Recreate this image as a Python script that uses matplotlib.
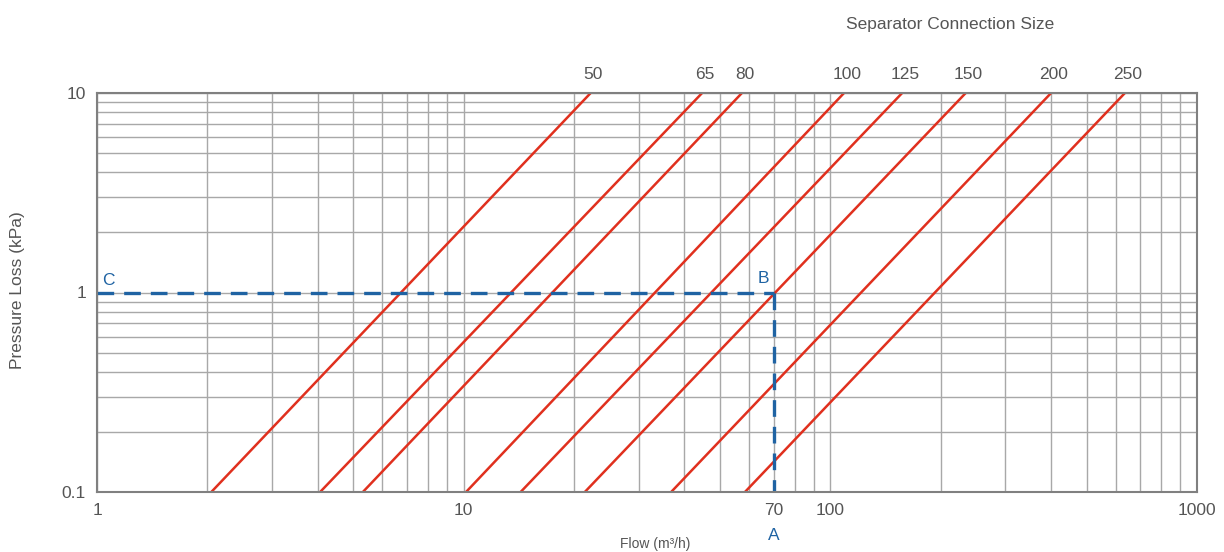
import matplotlib
matplotlib.use("Agg")
import matplotlib.pyplot as plt
from matplotlib.ticker import FixedLocator, NullFormatter, LogLocator

# Data
sizes = ["50", "65", "80", "100", "125", "150", "200", "250"]
flow_at_low = [2.05, 4.06, 5.31, 10.15, 14.3, 21.4, 36.8, 58.5]   # flow at 0.1 kPa
flow_at_high = [22.2, 44.7, 57.4, 109, 157, 234, 400, 636]       # flow at 10 kPa
p_low, p_high = 0.1, 10
example_flow = 70
example_dp = 1
xticks = [1, 10, 70, 100, 1000]
xticklabels = ["1", "10", "70", "100", "1000"]
yticks = [0.1, 1, 10]
yticklabels = ["0.1", "1", "10"]

plt.rcParams['font.family'] = ['Liberation Sans', 'DejaVu Sans']
txt = "#555555"
red = "#e0301e"
blue = "#1f63a3"

fig = plt.figure(figsize=(12.24, 5.52), dpi=100)
ax = fig.add_axes([97/1224, 60/552, 1100/1224, 399/552])
ax.set_xscale("log")
ax.set_yscale("log")
ax.set_xlim(1, 1000)
ax.set_ylim(0.1, 10)

ax.xaxis.set_major_locator(FixedLocator(xticks))
ax.set_xticklabels(xticklabels)
ax.yaxis.set_major_locator(FixedLocator(yticks))
ax.set_yticklabels(yticklabels)
ax.xaxis.set_minor_locator(LogLocator(base=10, subs=range(2, 10), numticks=20))
ax.yaxis.set_minor_locator(LogLocator(base=10, subs=range(2, 10), numticks=20))
ax.xaxis.set_minor_formatter(NullFormatter())
ax.yaxis.set_minor_formatter(NullFormatter())
ax.tick_params(which="both", length=0, labelsize=12.5, colors=txt, pad=8)
ax.grid(which="both", color="#a8a8a8", linewidth=1.0)
for s in ax.spines.values():
    s.set_color("#808080")
    s.set_linewidth(1.5)

for lab, xl, xh in zip(sizes, flow_at_low, flow_at_high):
    ax.plot([xl, xh], [p_low, p_high], color=red, lw=1.8, solid_capstyle="butt")
    ax.annotate(lab, xy=(xh, p_high), xytext=(2, 8), textcoords="offset points",
                ha="center", va="bottom", fontsize=12.5, color=txt, annotation_clip=False)

ax.plot([1, example_flow], [example_dp, example_dp], color=blue, lw=2.4, ls=(0, (5, 3)))
ax.plot([example_flow, example_flow], [example_dp, p_low], color=blue, lw=2.4, ls=(0, (5, 3)))
ax.annotate("C", xy=(1, example_dp), xytext=(4, 3), textcoords="offset points",
            ha="left", va="bottom", fontsize=12.5, color=blue)
ax.annotate("B", xy=(example_flow, example_dp), xytext=(-7, 5), textcoords="offset points",
            ha="center", va="bottom", fontsize=12.5, color=blue)
ax.annotate("A", xy=(example_flow, p_low), xytext=(0, -26), textcoords="offset points",
            ha="center", va="top", fontsize=12.5, color=blue, annotation_clip=False)

fig.text(950/1224, 1 - 25/552, "Separator Connection Size", ha="center", va="center",
         fontsize=12.5, color=txt)
fig.text(18/1224, 1 - 290/552, "Pressure Loss (kPa)", rotation=90, ha="center", va="center",
         fontsize=12.5, color=txt)
fig.text(655/1224, 1/552, "Flow (m³/h)", ha="center", va="bottom", fontsize=10, color=txt)

fig.savefig("out.png", dpi=100)
